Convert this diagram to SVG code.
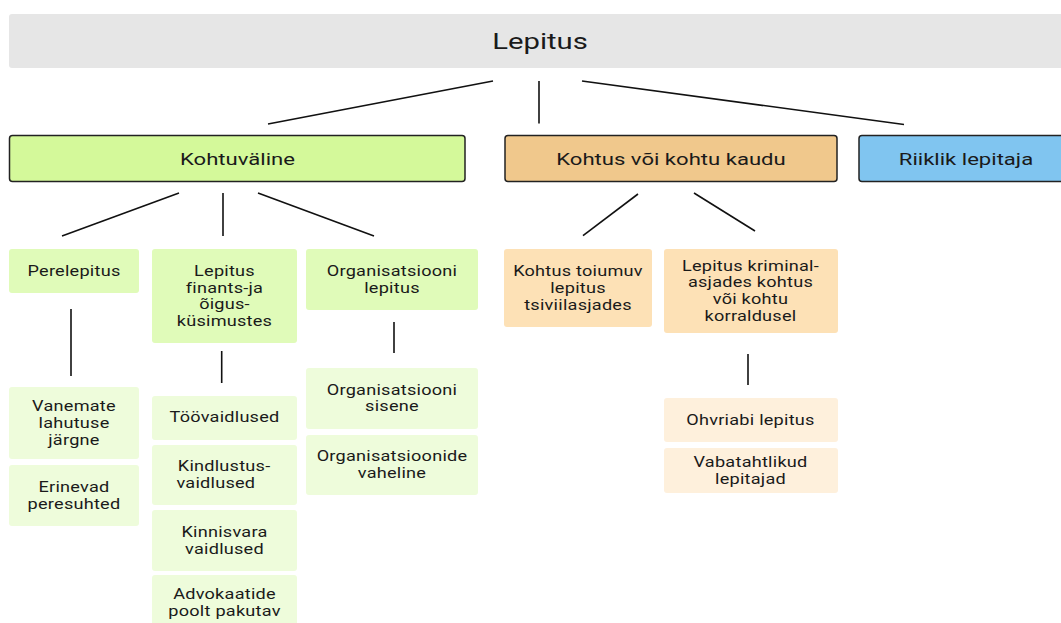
<svg xmlns="http://www.w3.org/2000/svg" width="1061" height="623" viewBox="0 0 1061 623">
<style>
text{font-family:Roboto,"Liberation Sans",sans-serif;fill:#1a1a1a;text-anchor:middle;transform-box:fill-box;transform-origin:center}
.t0{font-size:22.5px;transform:scaleX(1.3)}
.t1{font-size:17px;transform:scaleX(1.3)}
.t2{font-size:15.5px;letter-spacing:0.2px;transform:scaleX(1.17)}
.b1{stroke:#222;stroke-width:1.5}
.g2{fill:#e0fbb9}.g3{fill:#eefcdb}.o2{fill:#fde1b6}.o3{fill:#fef0dc}
.c line{stroke:#111;stroke-width:1.6}
</style>
<g id="root"><rect x="9" y="14" width="1070" height="54" rx="3" fill="#e6e6e6"/><text class="t0" x="540" y="49">Lepitus</text></g>
<g id="kohtuvaline"><rect class="b1" x="9.5" y="135.5" width="455.5" height="46" rx="3" fill="#d4f99a"/><text class="t1" x="237.5" y="164.7">Kohtuväline</text></g>
<g id="kohtus"><rect class="b1" x="505" y="135.5" width="332" height="46" rx="3" fill="#f0c88c"/><text class="t1" x="671" y="164.7">Kohtus või kohtu kaudu</text></g>
<g id="riiklik"><rect class="b1" x="859" y="135.5" width="220" height="46" rx="3" fill="#80c5f0"/><text class="t1" x="966" y="164.7">Riiklik lepitaja</text></g>

<g id="perelepitus"><rect class="g2" x="9" y="249" width="130" height="44" rx="3"/><text class="t2" x="74" y="276.5">Perelepitus</text></g>
<g id="finants"><rect class="g2" x="152" y="249" width="145" height="94" rx="3"/><text class="t2" y="276.2"><tspan x="224.5">Lepitus</tspan><tspan x="224.5" y="292.8">finants-ja</tspan><tspan x="224.5" y="309.5">õigus-</tspan><tspan x="224.5" y="326.2">küsimustes</tspan></text></g>
<g id="org"><rect class="g2" x="306" y="249" width="172" height="61" rx="3"/><text class="t2" y="276.2"><tspan x="392">Organisatsiooni</tspan><tspan x="392" y="293">lepitus</tspan></text></g>
<g id="tsiviil"><rect class="o2" x="504" y="249" width="148" height="78" rx="3"/><text class="t2" y="276.2"><tspan x="578">Kohtus toiumuv</tspan><tspan x="578" y="293.2">lepitus</tspan><tspan x="578" y="309.8">tsiviilasjades</tspan></text></g>
<g id="kriminal"><rect class="o2" x="664" y="249" width="174" height="84" rx="3"/><text class="t2" y="270.8"><tspan x="750.5">Lepitus kriminal-</tspan><tspan x="750.5" y="287.5">asjades kohtus</tspan><tspan x="750.5" y="304.2">või kohtu</tspan><tspan x="750.5" y="320.8">korraldusel</tspan></text></g>

<g id="vanemate"><rect class="g3" x="9" y="387" width="130" height="72" rx="3"/><text class="t2" y="411.5"><tspan x="74">Vanemate</tspan><tspan x="74" y="428.2">lahutuse</tspan><tspan x="74" y="444.8">järgne</tspan></text></g>
<g id="erinevad"><rect class="g3" x="9" y="465" width="130" height="61" rx="3"/><text class="t2" y="492.2"><tspan x="74">Erinevad</tspan><tspan x="74" y="508.8">peresuhted</tspan></text></g>
<g id="toovaidlused"><rect class="g3" x="152" y="396" width="145" height="44" rx="3"/><text class="t2" x="224.5" y="422.5">Töövaidlused</text></g>
<g id="kindlustus"><rect class="g3" x="152" y="445" width="145" height="60" rx="3"/><text class="t2" y="471.5"><tspan x="224">Kindlustus-</tspan><tspan x="217" y="487.8">vaidlused</tspan></text></g>
<g id="kinnisvara"><rect class="g3" x="152" y="510" width="145" height="61" rx="3"/><text class="t2" y="537.2"><tspan x="224.5">Kinnisvara</tspan><tspan x="224.5" y="553.8">vaidlused</tspan></text></g>
<g id="advokaatide"><rect class="g3" x="152" y="575" width="145" height="60" rx="3"/><text class="t2" y="599.5"><tspan x="224.5">Advokaatide</tspan><tspan x="224.5" y="616.2">poolt pakutav</tspan></text></g>
<g id="orgsisene"><rect class="g3" x="306" y="368" width="172" height="61" rx="3"/><text class="t2" y="394.8"><tspan x="392">Organisatsiooni</tspan><tspan x="392" y="411.2">sisene</tspan></text></g>
<g id="orgvaheline"><rect class="g3" x="306" y="435" width="172" height="60" rx="3"/><text class="t2" y="461.5"><tspan x="392">Organisatsioonide</tspan><tspan x="392" y="478.2">vaheline</tspan></text></g>
<g id="ohvriabi"><rect class="o3" x="664" y="398" width="174" height="44" rx="3"/><text class="t2" x="750.5" y="425.5">Ohvriabi lepitus</text></g>
<g id="vabatahtlikud"><rect class="o3" x="664" y="448" width="174" height="45" rx="3"/><text class="t2" y="467.2"><tspan x="750.5">Vabatahtlikud</tspan><tspan x="750.5" y="483.8">lepitajad</tspan></text></g>

<g id="connectors" class="c">
<line x1="493" y1="81" x2="268" y2="124"/>
<line x1="539" y1="81" x2="539" y2="123.5"/>
<line x1="582" y1="81" x2="904" y2="124.5"/>
<line x1="179" y1="193" x2="62" y2="236"/>
<line x1="223" y1="193" x2="223" y2="236"/>
<line x1="258" y1="193" x2="374" y2="236"/>
<line x1="638" y1="194" x2="583" y2="235.7"/>
<line x1="694" y1="193" x2="755" y2="231"/>
<line x1="71" y1="309" x2="71" y2="376"/>
<line x1="221.7" y1="351" x2="221.7" y2="383"/>
<line x1="394" y1="322" x2="394" y2="353"/>
<line x1="748" y1="354" x2="748" y2="385"/>
</g>
</svg>
